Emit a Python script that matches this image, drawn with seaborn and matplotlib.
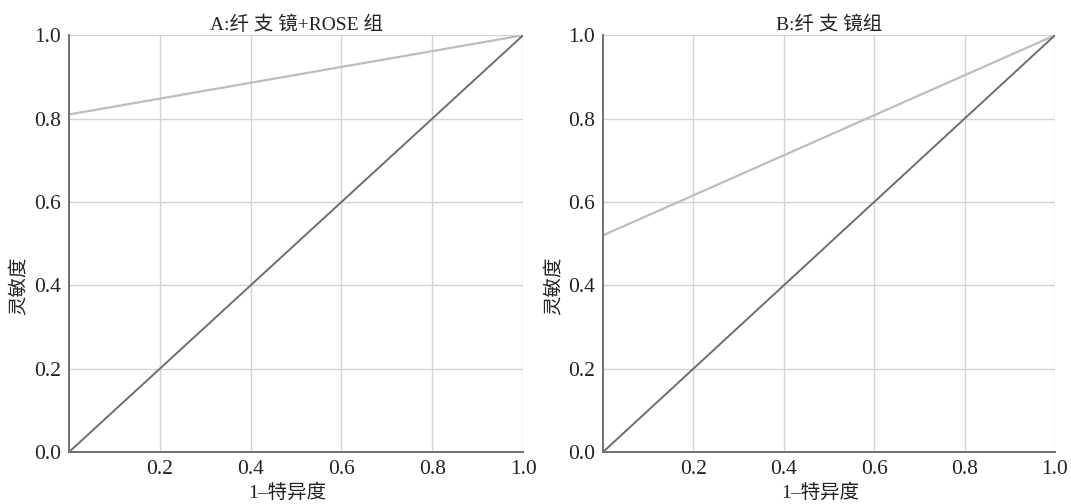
import pandas as pd
import matplotlib.pyplot as plt
import seaborn as sns

# ROC curve points for each group (1-specificity, sensitivity)
fpr_a = [0.0, 1.0]
tpr_a = [0.81, 1.0]
fpr_b = [0.0, 1.0]
tpr_b = [0.52, 1.0]
ref_x = [0.0, 1.0]
ref_y = [0.0, 1.0]

titles = ['A:纤 支 镜+ROSE 组', 'B:纤 支 镜组']
xticks = [0.2, 0.4, 0.6, 0.8, 1.0]
yticks = [0.0, 0.2, 0.4, 0.6, 0.8, 1.0]

sns.set_style('white')
plt.rcParams['font.family'] = ['Liberation Serif', 'Noto Sans CJK SC', 'DejaVu Sans']

fig = plt.figure(figsize=(10.71, 5.04), dpi=100)
ax1 = fig.add_axes([0.0644, 0.103, 0.424, 0.827])
ax2 = fig.add_axes([0.563, 0.103, 0.422, 0.827])

for ax, fx, ty, title in [(ax1, fpr_a, tpr_a, titles[0]), (ax2, fpr_b, tpr_b, titles[1])]:
    for v in xticks:
        ax.axvline(v, color='#d4d4d4', lw=1.0, zorder=0)
    for v in yticks[1:]:
        ax.axhline(v, color='#d4d4d4', lw=1.0, zorder=0)
    sns.lineplot(x=fx, y=ty, ax=ax, color='#bdbdbd', lw=1.6)
    sns.lineplot(x=ref_x, y=ref_y, ax=ax, color='#6e6e6e', lw=1.4)
    ax.set_xlim(0, 1.0)
    ax.set_ylim(0, 1.0)
    ax.set_xticks(xticks)
    ax.set_xticklabels([f'{v:.1f}' for v in xticks])
    ax.set_yticks(yticks)
    ax.set_yticklabels([f'{v:.1f}' for v in yticks])
    ax.tick_params(length=0, labelsize=15.5, colors='#222222', pad=6)
    for s in ['top', 'right']:
        ax.spines[s].set_visible(False)
    for s in ['left', 'bottom']:
        ax.spines[s].set_color('#707070')
        ax.spines[s].set_linewidth(1.4)
    ax.set_title(title, fontsize=14, color='#222222', pad=4)
    ax.set_xlabel('1–特异度', fontsize=14, color='#222222')
    ax.xaxis.set_label_coords(0.48, -0.074)
    ax.set_ylabel('灵敏度', fontsize=14, color='#222222')
    ax.yaxis.set_label_coords(-0.09, 0.40)

fig.savefig('out.png', dpi=100)
